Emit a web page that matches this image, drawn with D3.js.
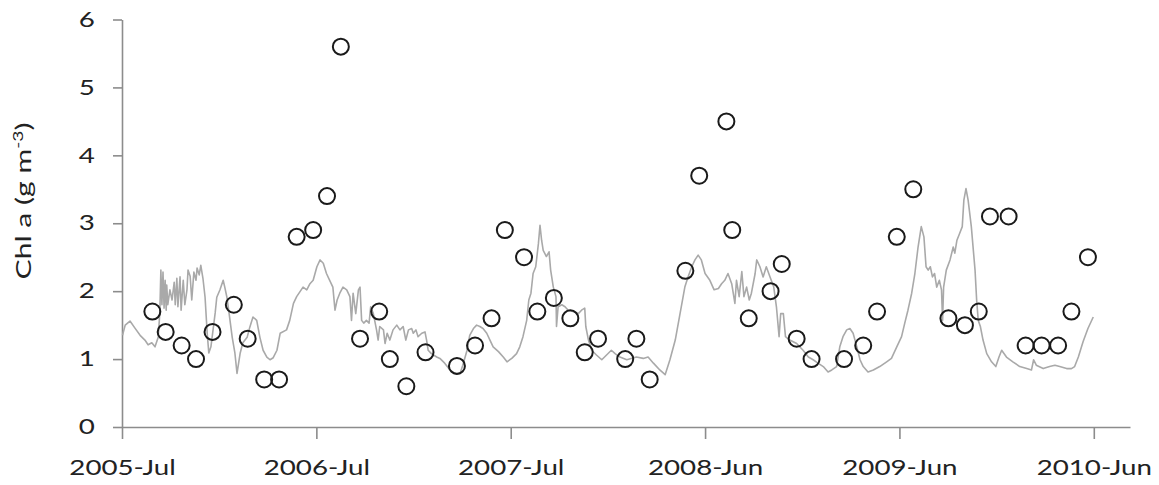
<!DOCTYPE html>
<html>
<head>
<meta charset="utf-8">
<script src="https://cdn.jsdelivr.net/npm/d3@7"></script>
<style>
  body { margin: 0; background: #fff; }
</style>
</head>
<body>
<svg id="chart"></svg>
<script>
// Measured samples (circles)
const sampleDates = ["2005-08-27","2005-09-21","2005-10-21","2005-11-17","2005-12-18","2006-01-27","2006-02-22","2006-03-25","2006-04-22","2006-05-25","2006-06-25","2006-07-21","2006-08-16","2006-09-21","2006-10-27","2006-11-16","2006-12-17","2007-01-22","2007-03-22","2007-04-25","2007-05-26","2007-06-20","2007-07-26","2007-08-20","2007-09-20","2007-10-21","2007-11-17","2007-12-12","2008-02-01","2008-02-22","2008-03-18","2008-05-24","2008-06-19","2008-08-09","2008-08-20","2008-09-20","2008-10-31","2008-11-21","2008-12-19","2009-01-16","2009-03-18","2009-04-23","2009-05-19","2009-06-25","2009-07-26","2009-09-30","2009-10-31","2009-11-26","2009-12-17","2010-01-21","2010-02-22","2010-03-24","2010-04-24","2010-05-19","2010-06-19"];
const sampleValues = [1.7,1.4,1.2,1.0,1.4,1.8,1.3,0.7,0.7,2.8,2.9,3.4,5.6,1.3,1.7,1.0,0.6,1.1,0.9,1.2,1.6,2.9,2.5,1.7,1.9,1.6,1.1,1.3,1.0,1.3,0.7,2.3,3.7,4.5,2.9,1.6,2.0,2.4,1.3,1.0,1.0,1.2,1.7,2.8,3.5,1.6,1.5,1.7,3.1,3.1,1.2,1.2,1.2,1.7,2.5];

// Simulated series (grey line): days since modelStart
const modelStart = "2005-07-01";
const modelDays = [1,6,15,24,34,43,49,56,62,68,71,73,75,77,79,81,83,84,86,90,94,98,100,103,105,109,111,115,118,122,124,128,131,135,139,141,145,148,152,156,160,163,167,171,175,178,184,190,193,197,201,207,212,216,222,227,235,240,246,253,259,265,272,278,284,291,297,
  309,315,322,328,334,340,347,353,359,366,372,378,384,390,396,400,404,409,415,422,428,431,434,439,444,447,450,454,459,464,467,472,478,481,484,491,494,498,503,509,516,522,528,533,538,544,547,552,556,563,569,572,575,581,591,597,606,616,625,635,640,648,653,
  660,666,672,678,685,691,697,707,716,723,732,741,747,753,760,764,768,772,777,782,785,788,791,797,802,805,810,815,816,819,826,832,838,847,857,863,869,871,876,882,891,901,910,919,926,935,948,
  966,979,988,998,1010,1020,1029,1039,1048,1057,1063,1070,1076,1082,1088,1095,1104,1112,1120,1126,1132,1138,1145,1151,1154,1159,1164,1168,1173,1178,1182,1189,1192,1198,1204,1210,1217,1224,1229,1234,1237,1242,1246,1254,1267,
  1279,1289,1298,1307,1317,1326,1333,1342,1348,1354,1361,1367,1373,1380,1386,1392,1401,1411,1423,1436,1445,1455,1464,1470,1476,1483,1489,1495,1501,1506,1510,1514,1518,1522,1526,1530,1535,1539,1541,1543,1548,1555,1561,1564,1568,1573,1578,1581,1585,1589,
  1595,1602,1605,1608,1612,1617,1624,1633,1641,1647,1652,1661,1673,1686,1699,1708,1712,1717,1730,1742,1752,1761,1774,1783,1789,1796,1805,1814,1824];
const modelValues = [1.35,1.50,1.56,1.46,1.35,1.28,1.21,1.24,1.18,1.32,1.68,2.31,1.80,2.28,1.75,2.16,1.72,2.09,1.80,2.02,1.87,2.13,1.80,2.19,1.77,2.21,1.72,2.16,1.80,2.02,2.31,2.22,1.87,2.28,2.16,2.34,2.24,2.38,2.19,1.91,1.38,1.09,1.18,1.43,1.68,1.91,2.02,2.16,2.06,1.91,1.68,1.32,1.09,0.79,1.09,1.24,1.32,1.47,1.62,1.57,1.32,1.13,1.03,0.99,1.02,1.13,1.38,
  1.43,1.57,1.82,1.92,1.99,2.06,2.02,2.11,2.16,2.36,2.46,2.41,2.26,2.16,2.06,1.72,1.87,1.97,2.06,2.02,1.92,1.57,1.97,1.67,2.02,2.06,1.57,1.53,1.57,1.53,1.77,1.67,1.43,1.28,1.48,1.43,1.23,1.38,1.28,1.43,1.50,1.43,1.48,1.28,1.43,1.45,1.38,1.43,1.33,1.38,1.40,1.28,1.13,1.08,1.03,1.01,0.94,0.84,0.79,0.79,0.91,1.13,1.35,
  1.45,1.50,1.48,1.45,1.38,1.28,1.18,1.11,1.03,0.96,1.01,1.08,1.18,1.33,1.57,1.87,1.97,2.26,2.36,2.70,2.97,2.75,2.60,2.51,2.58,2.31,2.06,1.92,1.48,1.77,1.80,1.77,1.72,1.70,1.67,1.72,1.75,1.48,1.28,1.13,1.06,0.99,1.06,1.13,1.08,1.03,0.99,
  1.03,1.01,1.03,0.94,0.84,0.77,0.99,1.28,1.67,2.06,2.21,2.36,2.46,2.53,2.46,2.26,2.16,2.02,2.04,2.11,2.16,2.26,2.11,1.82,2.16,1.92,2.29,1.92,2.06,1.87,1.97,2.26,2.46,2.36,2.21,2.36,2.21,2.06,1.77,1.33,1.67,1.67,1.33,1.28,1.23,
  1.13,1.03,0.99,0.94,0.89,0.81,0.84,0.89,1.18,1.33,1.43,1.45,1.38,1.18,0.99,0.89,0.81,0.84,0.89,0.96,1.01,1.18,1.33,1.53,1.72,1.97,2.26,2.65,2.95,2.80,2.36,2.31,2.36,2.21,2.26,2.06,2.16,2.02,1.57,2.06,2.31,2.46,2.65,2.56,2.75,2.85,2.95,3.34,3.51,3.34,
  2.95,2.31,1.87,1.57,1.48,1.28,1.08,0.96,0.89,1.03,1.13,1.03,0.96,0.89,0.86,0.84,0.99,0.91,0.86,0.89,0.91,0.89,0.86,0.86,0.89,1.03,1.26,1.45,1.62];

// Axis ticks
const xTickDates = ["2005-07-01","2006-07-01","2007-07-01","2008-06-30","2009-06-30","2010-06-30"];
const xDomainEnd = "2010-09-06";
const yTicks = [0, 1, 2, 3, 4, 5, 6];

const width = 1159;
const height = 485;
const margin = { top: 19.5, right: 29, bottom: 58, left: 122 };

const parse = d3.utcParse("%Y-%m-%d");
const start = parse(modelStart);

const svg = d3.select("#chart")
    .attr("width", width)
    .attr("height", height);

const x = d3.scaleUtc()
    .domain([parse(xTickDates[0]), parse(xDomainEnd)])
    .range([margin.left, width - margin.right]);

const y = d3.scaleLinear()
    .domain([0, 6])
    .range([height - margin.bottom, margin.top]);

const axisColor = "#8c8c8c";
const textColor = "#222";
const stretch = 1.32; // text in the picture is wide

// x axis
const gx = svg.append("g")
    .attr("transform", `translate(0,${y(0)})`)
    .call(d3.axisBottom(x)
        .tickValues(xTickDates.map(parse))
        .tickFormat(d3.utcFormat("%Y-%b"))
        .tickSize(12)
        .tickSizeOuter(0));

// y axis
const gy = svg.append("g")
    .attr("transform", `translate(${x.range()[0]},0)`)
    .call(d3.axisLeft(y)
        .tickValues(yTicks)
        .tickFormat(d3.format("d"))
        .tickSize(9)
        .tickSizeOuter(0));

[gx, gy].forEach(g => {
    g.attr("font-family", "Lato, 'Open Sans', sans-serif").attr("font-size", 21);
    g.select(".domain").attr("stroke", axisColor).attr("stroke-width", 1.6);
    g.selectAll(".tick line").attr("stroke", axisColor).attr("stroke-width", 1.6);
    g.selectAll(".tick text").attr("fill", textColor).attr("transform", `scale(${stretch},1)`);
});
gx.selectAll(".tick text").attr("y", 48).attr("dy", 0);
gy.selectAll(".tick text").attr("x", -20.5);

// y axis title
const title = svg.append("text")
    .attr("transform", `translate(31,201) scale(1,1.37) rotate(-90)`)
    .attr("text-anchor", "middle")
    .attr("font-family", "Lato, 'Open Sans', sans-serif")
    .attr("font-size", 22)
    .attr("fill", textColor);
title.append("tspan").text("Chl a (g m");
title.append("tspan").attr("font-size", 14).attr("dy", -8).text("-3");
title.append("tspan").attr("dy", 8).text(")");

// grey line
const lineData = modelDays.map((d, i) => ({ date: d3.utcDay.offset(start, d), value: modelValues[i] }));
svg.append("path")
    .datum(lineData)
    .attr("fill", "none")
    .attr("stroke", "#a9a9a9")
    .attr("stroke-width", 1.6)
    .attr("stroke-linejoin", "round")
    .attr("d", d3.line()
        .x(d => x(d.date))
        .y(d => y(d.value)));

// sample circles
svg.append("g")
    .selectAll("circle")
    .data(sampleDates.map((d, i) => ({ date: parse(d), value: sampleValues[i] })))
    .join("circle")
    .attr("cx", d => x(d.date))
    .attr("cy", d => y(d.value))
    .attr("r", 8)
    .attr("fill", "none")
    .attr("stroke", "#1a1a1a")
    .attr("stroke-width", 2);
</script>
</body>
</html>
